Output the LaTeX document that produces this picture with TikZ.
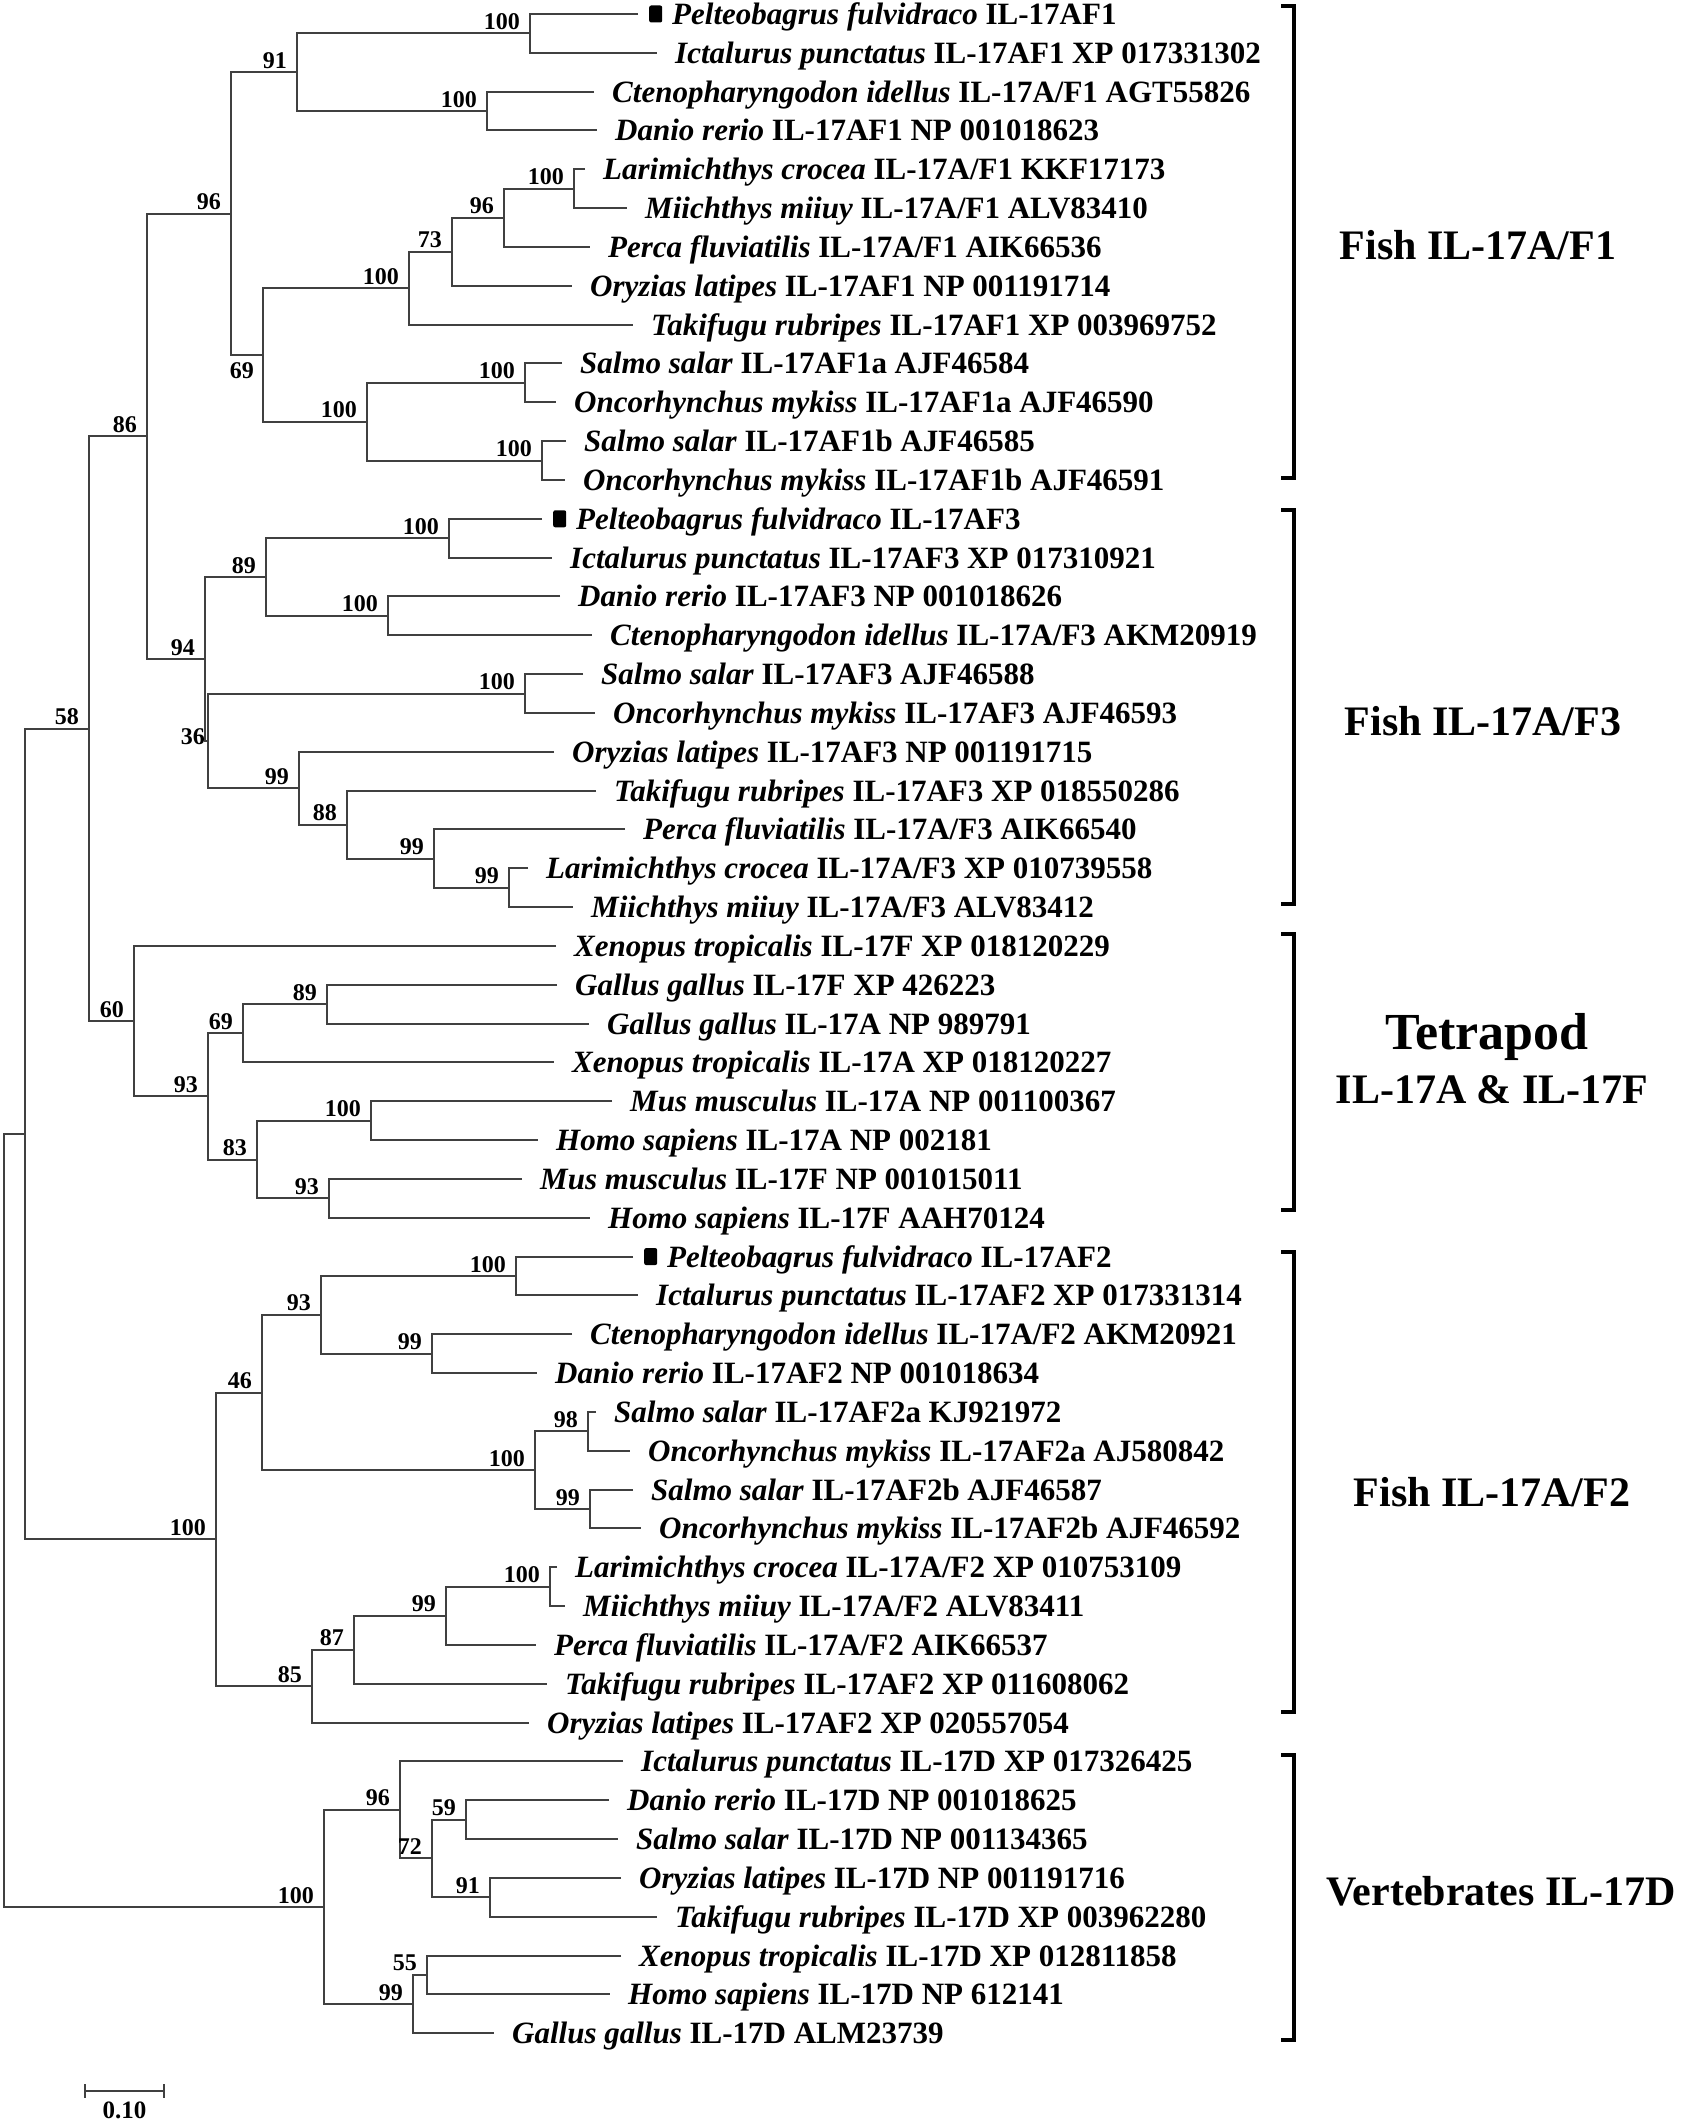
\documentclass[tikz,border=0pt]{standalone}
\usepackage{fontspec}
\setmainfont{Liberation Serif}
\usetikzlibrary{calc}

\begin{document}
\begin{tikzpicture}[x=1pt,y=-1pt,
		branch/.style={draw=black!75,line width=2pt},
		boot/.style={font=\fontsize{24}{26}\selectfont\bfseries,inner sep=0pt,anchor=base east,xshift=-10pt,yshift=4pt},
		bootlow/.style={font=\fontsize{24}{26}\selectfont\bfseries,inner sep=0pt,anchor=north east,xshift=-9pt,yshift=-7pt},
		bootmid/.style={font=\fontsize{24}{26}\selectfont\bfseries,inner sep=0pt,anchor=base east,xshift=-3pt,yshift=-4pt},
		leaf/.style={font=\fontsize{31}{34}\selectfont\bfseries,inner sep=0pt,anchor=base west},
		tagsq/.style={fill=black,rounded corners=2pt,minimum width=13pt,minimum height=17pt,inner sep=0pt,anchor=west},
		bracket/.style={draw=black,line width=3.5pt},
		group/.style={font=\fontsize{42}{46}\selectfont\bfseries,inner sep=0pt,anchor=base}]
	\useasboundingbox (0,0) rectangle (1683,2122);
	\foreach \i/\e/\g/\sp/\id in {
			0/638/34pt/Pelteobagrus fulvidraco/IL-17AF1,
			1/657/18pt/Ictalurus punctatus/IL-17AF1 XP 017331302,
			2/594/18pt/Ctenopharyngodon idellus/{IL-17A/F1 AGT55826},
			3/597/18pt/Danio rerio/IL-17AF1 NP 001018623,
			4/585/18pt/Larimichthys crocea/{IL-17A/F1 KKF17173},
			5/627/18pt/Miichthys miiuy/{IL-17A/F1 ALV83410},
			6/590/18pt/Perca fluviatilis/{IL-17A/F1 AIK66536},
			7/572/18pt/Oryzias latipes/IL-17AF1 NP 001191714,
			8/633/18pt/Takifugu rubripes/IL-17AF1 XP 003969752,
			9/562/18pt/Salmo salar/IL-17AF1a AJF46584,
			10/556/18pt/Oncorhynchus mykiss/IL-17AF1a AJF46590,
			11/566/18pt/Salmo salar/IL-17AF1b AJF46585,
			12/565/18pt/Oncorhynchus mykiss/IL-17AF1b AJF46591,
			13/542/34pt/Pelteobagrus fulvidraco/IL-17AF3,
			14/552/18pt/Ictalurus punctatus/IL-17AF3 XP 017310921,
			15/560/18pt/Danio rerio/IL-17AF3 NP 001018626,
			16/592/18pt/Ctenopharyngodon idellus/{IL-17A/F3 AKM20919},
			17/583/18pt/Salmo salar/IL-17AF3 AJF46588,
			18/595/18pt/Oncorhynchus mykiss/IL-17AF3 AJF46593,
			19/554/18pt/Oryzias latipes/IL-17AF3 NP 001191715,
			20/596/18pt/Takifugu rubripes/IL-17AF3 XP 018550286,
			21/625/18pt/Perca fluviatilis/{IL-17A/F3 AIK66540},
			22/528/18pt/Larimichthys crocea/{IL-17A/F3 XP 010739558},
			23/573/18pt/Miichthys miiuy/{IL-17A/F3 ALV83412},
			24/556/18pt/Xenopus tropicalis/IL-17F XP 018120229,
			25/557/18pt/Gallus gallus/IL-17F XP 426223,
			26/589/18pt/Gallus gallus/IL-17A NP 989791,
			27/554/18pt/Xenopus tropicalis/IL-17A XP 018120227,
			28/612/18pt/Mus musculus/IL-17A NP 001100367,
			29/538/18pt/Homo sapiens/IL-17A NP 002181,
			30/522/18pt/Mus musculus/IL-17F NP 001015011,
			31/590/18pt/Homo sapiens/IL-17F AAH70124,
			32/633/34pt/Pelteobagrus fulvidraco/IL-17AF2,
			33/638/18pt/Ictalurus punctatus/IL-17AF2 XP 017331314,
			34/572/18pt/Ctenopharyngodon idellus/{IL-17A/F2 AKM20921},
			35/537/18pt/Danio rerio/IL-17AF2 NP 001018634,
			36/596/18pt/Salmo salar/IL-17AF2a KJ921972,
			37/630/18pt/Oncorhynchus mykiss/IL-17AF2a AJ580842,
			38/633/18pt/Salmo salar/IL-17AF2b AJF46587,
			39/641/18pt/Oncorhynchus mykiss/IL-17AF2b AJF46592,
			40/557/18pt/Larimichthys crocea/{IL-17A/F2 XP 010753109},
			41/565/18pt/Miichthys miiuy/{IL-17A/F2 ALV83411},
			42/536/18pt/Perca fluviatilis/{IL-17A/F2 AIK66537},
			43/547/18pt/Takifugu rubripes/IL-17AF2 XP 011608062,
			44/529/18pt/Oryzias latipes/IL-17AF2 XP 020557054,
			45/623/18pt/Ictalurus punctatus/IL-17D XP 017326425,
			46/609/18pt/Danio rerio/IL-17D NP 001018625,
			47/618/18pt/Salmo salar/IL-17D NP 001134365,
			48/621/18pt/Oryzias latipes/IL-17D NP 001191716,
			49/657/18pt/Takifugu rubripes/IL-17D XP 003962280,
			50/621/18pt/Xenopus tropicalis/IL-17D XP 012811858,
			51/610/18pt/Homo sapiens/IL-17D NP 612141,
			52/494/18pt/Gallus gallus/IL-17D ALM23739}{
		\coordinate (l\i) at (\e,{14+38.83*\i});
		\node[leaf] (t\i) at ([xshift=\g,yshift=-10.5pt]l\i) {\textit{\sp} \id};
	}
	\foreach \i in {0,13,32}
		\node[tagsq] (sq\i) at ([xshift=11pt]l\i) {};

	\coordinate (a1) at (530,33.4);
	\coordinate (a2) at (487,111.1);
	\coordinate (a3) at (297,72.3);
	\coordinate (a4) at (574,188.8);
	\coordinate (a5) at (504,217.9);
	\coordinate (a6) at (452,251.8);
	\coordinate (a7) at (409,288.2);
	\coordinate (a8) at (525,382.9);
	\coordinate (a9) at (542,460.6);
	\coordinate (a10) at (367,421.7);
	\coordinate (a11) at (263,355.0);
	\coordinate (a12) at (231,213.6);
	\coordinate (b1) at (449,538.2);
	\coordinate (b2) at (388,615.9);
	\coordinate (b3) at (266,577.1);
	\coordinate (b4) at (525,693.5);
	\coordinate (b5) at (509,887.7);
	\coordinate (b6) at (434,858.6);
	\coordinate (b7) at (347,824.6);
	\coordinate (b8) at (299,788.2);
	\coordinate (b9) at (208,740.9);
	\coordinate (b10) at (205,659.0);
	\coordinate (n86) at (147,436.3);
	\coordinate (t1) at (327,1004.2);
	\coordinate (t2) at (243,1033.3);
	\coordinate (t3) at (371,1120.7);
	\coordinate (t4) at (329,1198.3);
	\coordinate (t5) at (257,1159.5);
	\coordinate (t6) at (208,1096.4);
	\coordinate (t7) at (134,1021.1);
	\coordinate (n58) at (89,728.7);
	\coordinate (c1) at (516,1276.0);
	\coordinate (c2) at (432,1353.7);
	\coordinate (c3) at (321,1314.8);
	\coordinate (c4) at (588,1431.3);
	\coordinate (c5) at (590,1509.0);
	\coordinate (c6) at (535,1470.2);
	\coordinate (c7) at (262,1392.5);
	\coordinate (c8) at (550,1586.6);
	\coordinate (c9) at (446,1615.7);
	\coordinate (c10) at (354,1649.7);
	\coordinate (c11) at (312,1686.1);
	\coordinate (c12) at (216,1539.3);
	\coordinate (nX) at (24.5,1134.0);
	\coordinate (d1) at (466,1819.6);
	\coordinate (d2) at (490,1897.3);
	\coordinate (d3) at (432,1858.4);
	\coordinate (d4) at (400,1809.9);
	\coordinate (d5) at (427,1974.9);
	\coordinate (d6) at (413,2004.0);
	\coordinate (d7) at (324,1907.0);
	\coordinate (root) at (4,1520.5);

	\foreach \p/\u/\w in {root/nX/d7,nX/n58/c12,n58/n86/t7,n86/a12/b10,
			a12/a3/a11,a3/a1/a2,a1/l0/l1,a2/l2/l3,a11/a7/a10,a7/a6/l8,a6/a5/l7,a5/a4/l6,a4/l4/l5,
			a10/a8/a9,a8/l9/l10,a9/l11/l12,
			b10/b3/b9,b3/b1/b2,b1/l13/l14,b2/l15/l16,b9/b4/b8,b4/l17/l18,b8/l19/b7,b7/l20/b6,b6/l21/b5,b5/l22/l23,
			t7/l24/t6,t6/t2/t5,t2/t1/l27,t1/l25/l26,t5/t3/t4,t3/l28/l29,t4/l30/l31,
			c12/c7/c11,c7/c3/c6,c3/c1/c2,c1/l32/l33,c2/l34/l35,c6/c4/c5,c4/l36/l37,c5/l38/l39,
			c11/c10/l44,c10/c9/l43,c9/c8/l42,c8/l40/l41,
			d7/d4/d6,d4/l45/d3,d3/d1/d2,d1/l46/l47,d2/l48/l49,d6/d5/l52,d5/l50/l51}
		\draw[branch] (\u) -| (\p) |- (\w);

	\foreach \n/\v in {a1/100,a2/100,a3/91,a4/100,a5/96,a6/73,a7/100,a8/100,a9/100,a10/100,a12/96,n86/86,
			b1/100,b2/100,b3/89,b4/100,b5/99,b6/99,b7/88,b8/99,b10/94,n58/58,
			t1/89,t2/69,t3/100,t4/93,t5/83,t6/93,t7/60,
			c1/100,c2/99,c3/93,c4/98,c5/99,c6/100,c7/46,c8/100,c9/99,c10/87,c11/85,c12/100,
			d1/59,d2/91,d3/72,d4/96,d5/55,d6/99,d7/100}
		\node[boot] (bs\n) at (\n) {\v};
	\node[bootlow] (bsa11) at (a11) {69};
	\node[bootmid] (bsb9) at (b9) {36};

	\foreach \top/\bot in {6/478,510/904,934/1210,1252/1712,1755/2040}
		\draw[bracket] (1281,\top) -- (1294,\top) -- (1294,\bot) -- (1281,\bot);
	\node[group] (gF1) at (1478,259) {Fish IL-17A/F1};
	\node[group] (gF3) at (1483,735) {Fish IL-17A/F3};
	\node[group,font=\fontsize{52}{56}\selectfont\bfseries] (gTet) at (1487,1049) {Tetrapod};
	\node[group] (gTetb) at (1492,1103) {IL-17A \& IL-17F};
	\node[group] (gF2) at (1492,1506) {Fish IL-17A/F2};
	\node[group] (gD) at (1501,1905) {Vertebrates IL-17D};

	\coordinate (sbl) at (85,2091);
	\coordinate (sbr) at (164,2091);
	\draw[branch] (sbl) -- (sbr);
	\draw[branch] ([yshift=7pt]sbl) -- ([yshift=-7pt]sbl);
	\draw[branch] ([yshift=7pt]sbr) -- ([yshift=-7pt]sbr);
	\node[font=\fontsize{25}{27}\selectfont\bfseries,inner sep=0pt] (sblabel) at ($(sbl)!.5!(sbr)+(0,19)$) {0.10};
\end{tikzpicture}
\end{document}
